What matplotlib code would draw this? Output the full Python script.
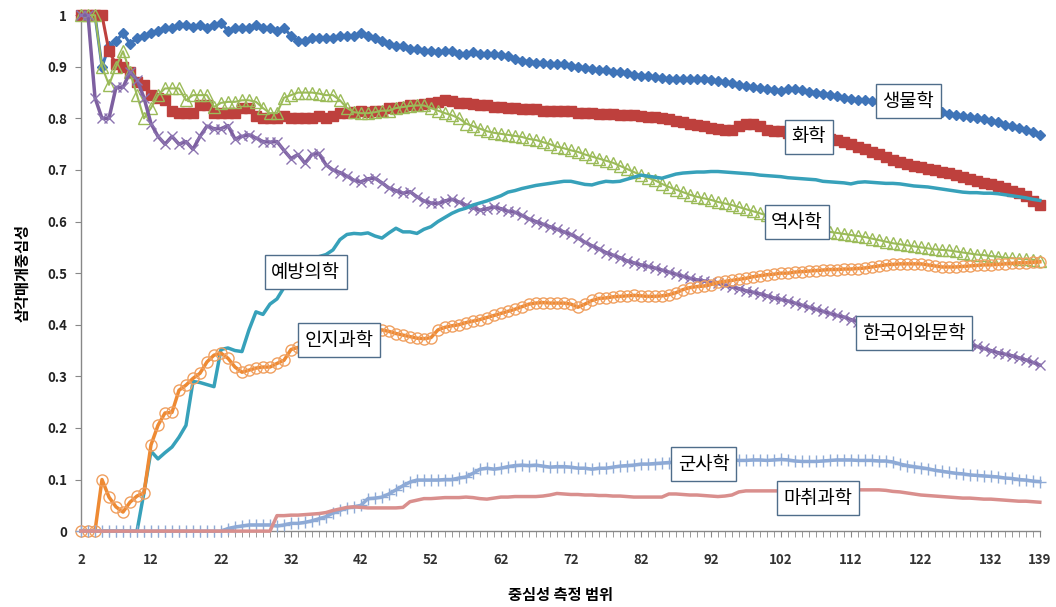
import matplotlib
matplotlib.use("Agg")
import matplotlib.pyplot as plt
from matplotlib.ticker import MultipleLocator

plt.rcParams['font.family'] = ['Noto Sans CJK KR', 'DejaVu Sans']

# 중심성 측정 범위 2..139
x = list(range(2, 140))

biology = [1.0, 1.0, 1.0, 0.90, 0.94, 0.95, 0.965, 0.945, 0.955, 0.96,
           0.965, 0.97, 0.975, 0.975, 0.98, 0.98, 0.978, 0.98, 0.975, 0.98,
           0.985, 0.97, 0.975, 0.975, 0.975, 0.98, 0.975, 0.975, 0.97, 0.975,
           0.96, 0.95, 0.95, 0.955, 0.955, 0.955, 0.955, 0.96, 0.96, 0.96,
           0.965, 0.96, 0.955, 0.95, 0.945, 0.94, 0.94, 0.935, 0.935, 0.93,
           0.93, 0.928, 0.93, 0.93, 0.925, 0.925, 0.928, 0.925, 0.925, 0.925,
           0.922, 0.92, 0.915, 0.912, 0.91, 0.908, 0.908, 0.905, 0.905, 0.905,
           0.902, 0.9, 0.898, 0.895, 0.893, 0.893, 0.89, 0.89, 0.888, 0.885,
           0.883, 0.882, 0.88, 0.878, 0.877, 0.877, 0.876, 0.876, 0.877, 0.877,
           0.875, 0.872, 0.87, 0.868, 0.865, 0.862, 0.86, 0.858, 0.856, 0.855,
           0.854, 0.856, 0.857, 0.855, 0.852, 0.85, 0.848, 0.846, 0.843, 0.84,
           0.838, 0.836, 0.835, 0.833, 0.832, 0.83, 0.828, 0.826, 0.824, 0.822,
           0.82, 0.818, 0.815, 0.812, 0.808, 0.806, 0.804, 0.802, 0.8, 0.798,
           0.795, 0.792, 0.788, 0.785, 0.781, 0.777, 0.773, 0.768]

chemistry = [1.0, 1.0, 1.0, 1.0, 0.93, 0.905, 0.90, 0.89, 0.87, 0.865,
             0.845, 0.84, 0.835, 0.815, 0.81, 0.81, 0.81, 0.825, 0.825, 0.81,
             0.81, 0.81, 0.81, 0.82, 0.82, 0.805, 0.80, 0.80, 0.80, 0.805,
             0.80, 0.80, 0.80, 0.80, 0.805, 0.80, 0.805, 0.81, 0.81, 0.812,
             0.815, 0.812, 0.815, 0.815, 0.82, 0.82, 0.822, 0.825, 0.825, 0.828,
             0.83, 0.832, 0.835, 0.833, 0.83, 0.83, 0.828, 0.825, 0.825, 0.822,
             0.822, 0.82, 0.82, 0.818, 0.818, 0.818, 0.815, 0.815, 0.815, 0.815,
             0.815, 0.81, 0.81, 0.81, 0.808, 0.808, 0.808, 0.806, 0.806, 0.806,
             0.805, 0.803, 0.802, 0.80, 0.798, 0.795, 0.792, 0.79, 0.788, 0.785,
             0.782, 0.78, 0.778, 0.778, 0.785, 0.79, 0.79, 0.785, 0.778, 0.775,
             0.775, 0.772, 0.77, 0.768, 0.765, 0.762, 0.76, 0.76, 0.758, 0.755,
             0.75, 0.745, 0.74, 0.735, 0.73, 0.725, 0.72, 0.715, 0.712, 0.708,
             0.705, 0.702, 0.70, 0.697, 0.694, 0.69, 0.686, 0.682, 0.678, 0.675,
             0.672, 0.668, 0.665, 0.66, 0.655, 0.65, 0.64, 0.632]

history = [1.0, 1.0, 1.0, 0.90, 0.865, 0.90, 0.93, 0.89, 0.845, 0.80,
           0.82, 0.845, 0.858, 0.858, 0.858, 0.835, 0.845, 0.845, 0.845, 0.822,
           0.83, 0.832, 0.832, 0.835, 0.835, 0.832, 0.82, 0.81, 0.81, 0.84,
           0.845, 0.85, 0.85, 0.85, 0.848, 0.845, 0.845, 0.835, 0.82, 0.812,
           0.81, 0.81, 0.812, 0.815, 0.815, 0.82, 0.822, 0.824, 0.825, 0.825,
           0.82, 0.815, 0.81, 0.806, 0.80, 0.79, 0.785, 0.78, 0.775, 0.772,
           0.77, 0.768, 0.766, 0.764, 0.76, 0.758, 0.754, 0.75, 0.745, 0.742,
           0.738, 0.735, 0.73, 0.726, 0.722, 0.718, 0.714, 0.708, 0.702, 0.696,
           0.69, 0.685, 0.68, 0.673, 0.667, 0.662, 0.657, 0.652, 0.648, 0.645,
           0.642, 0.638, 0.635, 0.632, 0.628, 0.624, 0.62, 0.616, 0.612, 0.608,
           0.604, 0.60, 0.597, 0.594, 0.59, 0.586, 0.583, 0.58, 0.578, 0.576,
           0.574, 0.572, 0.57, 0.567, 0.564, 0.561, 0.558, 0.556, 0.554, 0.552,
           0.55, 0.548, 0.546, 0.545, 0.544, 0.542, 0.54, 0.538, 0.536, 0.535,
           0.533, 0.532, 0.53, 0.529, 0.528, 0.527, 0.526, 0.524]

korean_lit = [1.0, 1.0, 0.84, 0.80, 0.80, 0.86, 0.86, 0.89, 0.875, 0.84,
              0.79, 0.765, 0.75, 0.765, 0.75, 0.755, 0.74, 0.765, 0.785, 0.78,
              0.78, 0.786, 0.76, 0.765, 0.768, 0.762, 0.755, 0.754, 0.755, 0.738,
              0.722, 0.73, 0.713, 0.73, 0.732, 0.71, 0.70, 0.695, 0.688, 0.68,
              0.677, 0.683, 0.684, 0.675, 0.665, 0.66, 0.655, 0.658, 0.648, 0.64,
              0.636, 0.635, 0.64, 0.643, 0.638, 0.632, 0.627, 0.622, 0.625, 0.628,
              0.625, 0.62, 0.618, 0.612, 0.605, 0.60, 0.595, 0.59, 0.585, 0.58,
              0.575, 0.568, 0.56, 0.553, 0.547, 0.54, 0.535, 0.53, 0.524, 0.52,
              0.516, 0.513, 0.51, 0.506, 0.502, 0.498, 0.494, 0.49, 0.487, 0.485,
              0.482, 0.48, 0.477, 0.473, 0.47, 0.466, 0.463, 0.46, 0.456, 0.452,
              0.449, 0.446, 0.442, 0.438, 0.434, 0.43, 0.426, 0.422, 0.418, 0.415,
              0.41, 0.406, 0.402, 0.398, 0.395, 0.392, 0.39, 0.388, 0.386, 0.384,
              0.382, 0.38, 0.377, 0.374, 0.371, 0.368, 0.365, 0.362, 0.358, 0.354,
              0.35, 0.346, 0.343, 0.34, 0.336, 0.332, 0.327, 0.322]

prev_med = [0, 0, 0, 0, 0, 0, 0, 0, 0, 0.075,
            0.155, 0.14, 0.152, 0.163, 0.182, 0.205, 0.29, 0.288, 0.284, 0.28,
            0.352, 0.355, 0.35, 0.348, 0.39, 0.425, 0.42, 0.44, 0.45, 0.472,
            0.49, 0.505, 0.515, 0.525, 0.532, 0.536, 0.545, 0.565, 0.575, 0.577,
            0.576, 0.578, 0.572, 0.568, 0.578, 0.587, 0.58, 0.58, 0.577, 0.585,
            0.59, 0.60, 0.608, 0.616, 0.622, 0.626, 0.632, 0.636, 0.64, 0.645,
            0.65, 0.657, 0.66, 0.664, 0.667, 0.67, 0.672, 0.674, 0.676, 0.678,
            0.678, 0.675, 0.672, 0.671, 0.675, 0.678, 0.677, 0.678, 0.682, 0.686,
            0.69, 0.688, 0.686, 0.684, 0.688, 0.692, 0.694, 0.695, 0.696, 0.696,
            0.697, 0.697, 0.696, 0.695, 0.694, 0.693, 0.692, 0.69, 0.689, 0.688,
            0.687, 0.685, 0.684, 0.683, 0.682, 0.681, 0.678, 0.677, 0.676, 0.675,
            0.673, 0.676, 0.677, 0.676, 0.675, 0.674, 0.674, 0.673, 0.671, 0.669,
            0.668, 0.667, 0.665, 0.663, 0.661, 0.659, 0.657, 0.656, 0.656, 0.655,
            0.655, 0.654, 0.652, 0.65, 0.648, 0.646, 0.643, 0.641]

cog_sci = [0, 0, 0, 0.10, 0.066, 0.047, 0.037, 0.056, 0.068, 0.074,
           0.167, 0.205, 0.229, 0.23, 0.273, 0.283, 0.296, 0.306, 0.328, 0.341,
           0.345, 0.335, 0.318, 0.308, 0.312, 0.316, 0.318, 0.318, 0.325, 0.331,
           0.352, 0.356, 0.36, 0.362, 0.365, 0.368, 0.372, 0.375, 0.378, 0.382,
           0.385, 0.387, 0.388, 0.39, 0.387, 0.383, 0.38, 0.377, 0.374, 0.373,
           0.375, 0.39, 0.395, 0.398, 0.40, 0.404, 0.407, 0.41, 0.414, 0.418,
           0.422, 0.426, 0.43, 0.435, 0.44, 0.442, 0.443, 0.442, 0.442, 0.442,
           0.44, 0.434, 0.44, 0.447, 0.451, 0.452, 0.454, 0.455, 0.456, 0.457,
           0.456, 0.455, 0.455, 0.456, 0.458, 0.462, 0.468, 0.472, 0.474, 0.475,
           0.478, 0.482, 0.484, 0.486, 0.488, 0.49, 0.493, 0.495, 0.497, 0.498,
           0.50, 0.50, 0.502, 0.503, 0.504, 0.505, 0.506, 0.507, 0.507, 0.508,
           0.508, 0.509, 0.51, 0.512, 0.514, 0.516, 0.517, 0.518, 0.518, 0.518,
           0.518, 0.516, 0.514, 0.512, 0.512, 0.512, 0.513, 0.514, 0.515, 0.516,
           0.516, 0.517, 0.518, 0.519, 0.52, 0.52, 0.521, 0.522]

military = [0, 0, 0, 0, 0, 0, 0, 0, 0, 0,
            0, 0, 0, 0, 0, 0, 0, 0, 0, 0,
            0, 0.005, 0.008, 0.01, 0.012, 0.012, 0.012, 0.012, 0.01, 0.012,
            0.015, 0.015, 0.017, 0.02, 0.024, 0.028, 0.035, 0.04, 0.045, 0.047,
            0.05, 0.063, 0.064, 0.066, 0.072, 0.08, 0.088, 0.095, 0.099, 0.099,
            0.099, 0.099, 0.10, 0.10, 0.103, 0.105, 0.112, 0.12, 0.122, 0.12,
            0.122, 0.125, 0.127, 0.128, 0.127, 0.128, 0.126, 0.124, 0.125, 0.125,
            0.124, 0.122, 0.122, 0.12, 0.122, 0.122, 0.124, 0.126, 0.127, 0.128,
            0.13, 0.13, 0.131, 0.132, 0.133, 0.134, 0.135, 0.136, 0.136, 0.137,
            0.137, 0.138, 0.138, 0.138, 0.137, 0.137, 0.138, 0.138, 0.137, 0.138,
            0.139, 0.138, 0.136, 0.135, 0.135, 0.135, 0.136, 0.137, 0.138, 0.138,
            0.138, 0.137, 0.137, 0.137, 0.136, 0.136, 0.134, 0.13, 0.127, 0.125,
            0.123, 0.121, 0.118, 0.116, 0.114, 0.112, 0.111, 0.109, 0.108, 0.107,
            0.106, 0.105, 0.103, 0.102, 0.10, 0.099, 0.097, 0.096]

anesthesia = [0, 0, 0, 0, 0, 0, 0, 0, 0, 0,
              0, 0, 0, 0, 0, 0, 0, 0, 0, 0,
              0, 0, 0, 0, 0, 0, 0, 0, 0.03, 0.03,
              0.031, 0.031, 0.032, 0.033, 0.034, 0.036, 0.04, 0.043, 0.046, 0.047,
              0.046, 0.045, 0.045, 0.045, 0.045, 0.045, 0.046, 0.057, 0.06, 0.063,
              0.063, 0.064, 0.065, 0.065, 0.065, 0.066, 0.065, 0.063, 0.062, 0.064,
              0.066, 0.066, 0.067, 0.067, 0.067, 0.067, 0.068, 0.07, 0.073, 0.072,
              0.071, 0.071, 0.07, 0.07, 0.069, 0.069, 0.068, 0.068, 0.067, 0.066,
              0.066, 0.066, 0.066, 0.066, 0.072, 0.072, 0.071, 0.07, 0.07, 0.069,
              0.068, 0.067, 0.068, 0.07, 0.076, 0.078, 0.078, 0.078, 0.078, 0.078,
              0.078, 0.078, 0.078, 0.078, 0.078, 0.078, 0.078, 0.078, 0.079, 0.079,
              0.079, 0.08, 0.08, 0.08, 0.08, 0.079, 0.077, 0.076, 0.074, 0.072,
              0.07, 0.069, 0.068, 0.067, 0.066, 0.065, 0.064, 0.064, 0.063, 0.062,
              0.062, 0.061, 0.06, 0.059, 0.058, 0.058, 0.057, 0.056]

xtick_vals = [2, 12, 22, 32, 42, 52, 62, 72, 82, 92, 102, 112, 122, 132, 139]
ytick_vals = [0, 0.1, 0.2, 0.3, 0.4, 0.5, 0.6, 0.7, 0.8, 0.9, 1.0]
ytick_labels = ['0', '0.1', '0.2', '0.3', '0.4', '0.5', '0.6', '0.7', '0.8', '0.9', '1']

fig = plt.figure(figsize=(10.56, 6.07), dpi=100)
ax = fig.add_axes([0.0767, 0.125, 0.908, 0.850])

ax.plot(x, biology, color='#3F74B8', lw=2.2, marker='D', ms=5.5, mec='#3F74B8', clip_on=False, zorder=3)
ax.plot(x, chemistry, color='#BE403D', lw=2.2, marker='s', ms=6.5, mec='#BE403D', clip_on=False, zorder=3)
ax.plot(x, history, color='#9BBB59', lw=1.5, marker='^', ms=8, mfc='none', mec='#9BBB59', mew=1.0, clip_on=False, zorder=3)
ax.plot(x, korean_lit, color='#7D5FA0', lw=2.5, marker='x', ms=7.5, mec='#8B73B0', mew=1.0, clip_on=False, zorder=3)
ax.plot(x, prev_med, color='#37A1BA', lw=2.5, clip_on=False, zorder=3)
ax.plot(x, cog_sci, color='#EE8A33', lw=2.5, marker='o', ms=8, mfc='none', mec='#F0A060', mew=1.0, clip_on=False, zorder=3)
ax.plot(x, military, color='#8EAAD6', lw=2.5, marker='+', ms=8, mec='#8EAAD6', mew=1.0, clip_on=False, zorder=3)
ax.plot(x, anesthesia, color='#D98F8D', lw=2.5, clip_on=False, zorder=3)

ax.set_xlim(2, 139)
ax.set_ylim(0, 1)
ax.set_xticks(xtick_vals)
ax.set_xticklabels([str(v) for v in xtick_vals], fontsize=9.5, fontweight='bold', color='#333333')
ax.xaxis.set_minor_locator(MultipleLocator(1))
ax.set_yticks(ytick_vals)
ax.set_yticklabels(ytick_labels, fontsize=9.5, fontweight='bold', color='#222222')
ax.tick_params(axis='x', which='both', direction='out', length=4, color='#888888', pad=12)
ax.tick_params(axis='y', direction='out', length=4, color='#888888', pad=6)

for s in ['top', 'right']:
    ax.spines[s].set_visible(False)
for s in ['left', 'bottom']:
    ax.spines[s].set_color('#888888')
    ax.spines[s].set_linewidth(1.0)

ax.set_ylabel('삼각매개중심성', fontsize=11, fontweight='bold', labelpad=12)
ax.set_xlabel('중심성 측정 범위', fontsize=11, fontweight='bold', labelpad=14)

box = dict(boxstyle='square,pad=0.35', facecolor='white', edgecolor='#4F6D8A', linewidth=1.0)
labels = [('생물학', 120.2, 0.833), ('화학', 106.0, 0.764), ('역사학', 104.3, 0.599),
          ('예방의학', 34.1, 0.502), ('인지과학', 38.9, 0.37), ('한국어와문학', 121.0, 0.384),
          ('군사학', 91.0, 0.13), ('마취과학', 107.3, 0.064)]
for txt, lx, ly in labels:
    ax.text(lx, ly, txt, fontsize=13.5, ha='center', va='center', bbox=box, zorder=5)

fig.savefig('out.png', dpi=100)
